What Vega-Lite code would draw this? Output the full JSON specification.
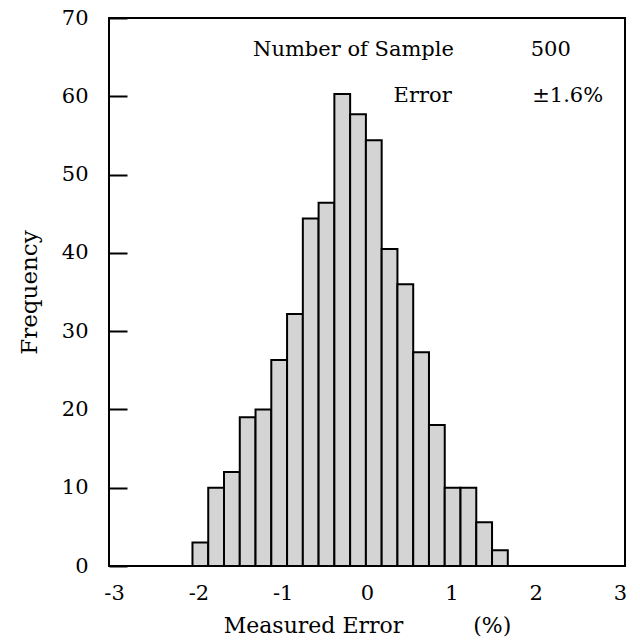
{
  "$schema": "https://vega.github.io/schema/vega-lite/v6.json",
  "width": 516,
  "height": 548,
  "autosize": "none",
  "padding": {"left": 109, "top": 18, "right": 15, "bottom": 78},
  "background": "white",
  "config": {
    "view": {"stroke": "black", "strokeWidth": 2},
    "font": "DejaVu Serif"
  },
  "datasets": {
    "bins": [
      {"x0": -2.07, "x1": -1.883, "freq": 3},
      {"x0": -1.883, "x1": -1.696, "freq": 10},
      {"x0": -1.696, "x1": -1.509, "freq": 12},
      {"x0": -1.509, "x1": -1.322, "freq": 19},
      {"x0": -1.322, "x1": -1.135, "freq": 20},
      {"x0": -1.135, "x1": -0.948, "freq": 26.3},
      {"x0": -0.948, "x1": -0.761, "freq": 32.2},
      {"x0": -0.761, "x1": -0.574, "freq": 44.4},
      {"x0": -0.574, "x1": -0.387, "freq": 46.4},
      {"x0": -0.387, "x1": -0.2, "freq": 60.3},
      {"x0": -0.2, "x1": -0.013, "freq": 57.7},
      {"x0": -0.013, "x1": 0.174, "freq": 54.4},
      {"x0": 0.174, "x1": 0.361, "freq": 40.5},
      {"x0": 0.361, "x1": 0.548, "freq": 36},
      {"x0": 0.548, "x1": 0.735, "freq": 27.3},
      {"x0": 0.735, "x1": 0.922, "freq": 18},
      {"x0": 0.922, "x1": 1.109, "freq": 10},
      {"x0": 1.109, "x1": 1.296, "freq": 10},
      {"x0": 1.296, "x1": 1.483, "freq": 5.6},
      {"x0": 1.483, "x1": 1.67, "freq": 2}
    ],
    "notes": [
      {"label": "Number of Sample", "x": -0.16, "y": 65.9},
      {"label": "500", "x": 2.18, "y": 65.9},
      {"label": "Error", "x": 0.66, "y": 60},
      {"label": "±1.6%", "x": 2.38, "y": 60}
    ]
  },
  "layer": [
    {
      "data": {"name": "bins"},
      "mark": {"type": "rect", "fill": "#d4d4d4", "stroke": "black", "strokeWidth": 2},
      "encoding": {
        "x": {
          "field": "x0", "type": "quantitative",
          "scale": {"domain": [-3.06, 3.06], "nice": false, "zero": false},
          "axis": {
            "values": [-3, -2, -1, 0, 1, 2, 3],
            "labelExpr": "'' + datum.value",
            "title": "Measured Error\u00a0\u00a0\u00a0\u00a0\u00a0\u00a0\u00a0\u00a0\u00a0\u00a0(%)",
            "titleFont": "DejaVu Serif", "titleFontSize": 22, "titleFontWeight": "normal",
            "titleColor": "black", "titlePadding": 12,
            "labelFont": "DejaVu Serif", "labelFontSize": 21, "labelColor": "black",
            "labelPadding": 16,
            "grid": false, "domain": false, "ticks": false, "labelFlush": false
          }
        },
        "x2": {"field": "x1"},
        "y": {
          "field": "freq", "type": "quantitative",
          "scale": {"domain": [0, 70], "nice": false},
          "axis": {
            "values": [0, 10, 20, 30, 40, 50, 60, 70],
            "title": "Frequency",
            "titleFont": "DejaVu Serif", "titleFontSize": 23, "titleFontWeight": "normal",
            "titleColor": "black", "titlePadding": 20,
            "labelFont": "DejaVu Serif", "labelFontSize": 21, "labelColor": "black",
            "tickSize": -18, "tickColor": "black", "tickWidth": 2,
            "labelPadding": 39,
            "grid": false, "domain": false, "labelFlush": false
          }
        },
        "y2": {"datum": 0}
      }
    },
    {
      "data": {"name": "notes"},
      "mark": {"type": "text", "font": "DejaVu Serif", "fontSize": 21, "color": "black", "align": "center", "baseline": "middle"},
      "encoding": {
        "x": {"field": "x", "type": "quantitative"},
        "y": {"field": "y", "type": "quantitative"},
        "text": {"field": "label"}
      }
    }
  ]
}
